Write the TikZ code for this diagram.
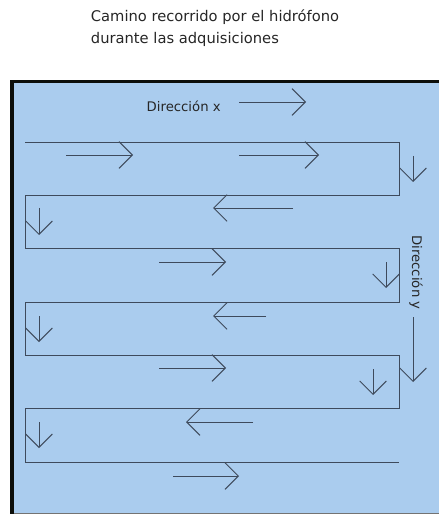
\documentclass[tikz,border=0pt]{standalone}
\usepackage{fontspec}
\setmainfont{DejaVu Sans}
\usepackage{xcolor}
\usepackage{tikz}
\usetikzlibrary{arrows.meta}
\definecolor{tanque}{RGB}{170,204,238}
\definecolor{trazo}{RGB}{62,74,92}
\definecolor{borde}{RGB}{12,14,10}

\begin{document}
\begin{tikzpicture}[x=0.03cm, y=-0.03cm,
    recorrido/.style={trazo, line width=0.8pt},
    flecha/.style={trazo, line width=0.8pt, -{Straight Barb[length=0.4cm, width=0.8cm]}},
    etiqueta/.style={inner sep=0pt, text=black!85, font=\fontsize{11.3}{13}\selectfont}]
  % page frame (px of the reference)
  \useasboundingbox (0,0) rectangle (439,514);
  \def\xl{25}
  \def\xr{399}

  % title (base = last line)
  \node[anchor=base west, inner sep=0pt, align=left, text=black!85,
        font=\fontsize{12.55}{19.6}\selectfont] (titulo) at (90.7,44)
    {Camino recorrido por el hidrófono\\durante las adquisiciones};

  % tank
  \fill[tanque] (12,82) rectangle (439,513);
  \draw[black!55, line width=0.8pt] (12,513) -- (439,513);
  \draw[borde, line width=3.4pt] (12,514) -- (12,81.5) -- (439,81.5);

  % axes
  \node[etiqueta, anchor=base west] (dirx) at (146.5,111.7) {Dirección x};
  \draw[flecha] (239,102) -- (306,102);
  \node[etiqueta, rotate=-90] (diry) at (416,272.5) {Dirección y};
  \draw[flecha] (413,317) -- (413,382);

  % serpentine path
  \draw[recorrido] (\xl,142) -- (\xr,142) -- (\xr,195.3) -- (\xl,195.3)
    -- (\xl,248.6) -- (\xr,248.6) -- (\xr,302) -- (\xl,302)
    -- (\xl,355.3) -- (\xr,355.3) -- (\xr,408.6) -- (\xl,408.6)
    -- (\xl,462) -- (\xr,462);

  % row 1
  \draw[flecha] (66,155) -- (133,155);
  \draw[flecha] (239,155) -- (319,155);
  \draw[flecha] (413,156) -- (413,182);
  % row 2
  \draw[flecha] (293,208) -- (213,208);
  \draw[flecha] (39,208) -- (39,235);
  % row 3
  \draw[flecha] (159,262) -- (226,262);
  \draw[flecha] (386,262) -- (386,288);
  % row 4
  \draw[flecha] (266,316) -- (213,316);
  \draw[flecha] (39,316) -- (39,342);
  % row 5
  \draw[flecha] (159,368) -- (226,368);
  \draw[flecha] (373,369) -- (373,395);
  % row 6
  \draw[flecha] (253,422) -- (186,422);
  \draw[flecha] (39,422) -- (39,448);
  % row 7
  \draw[flecha] (173,476) -- (239,476);
\end{tikzpicture}
\end{document}
